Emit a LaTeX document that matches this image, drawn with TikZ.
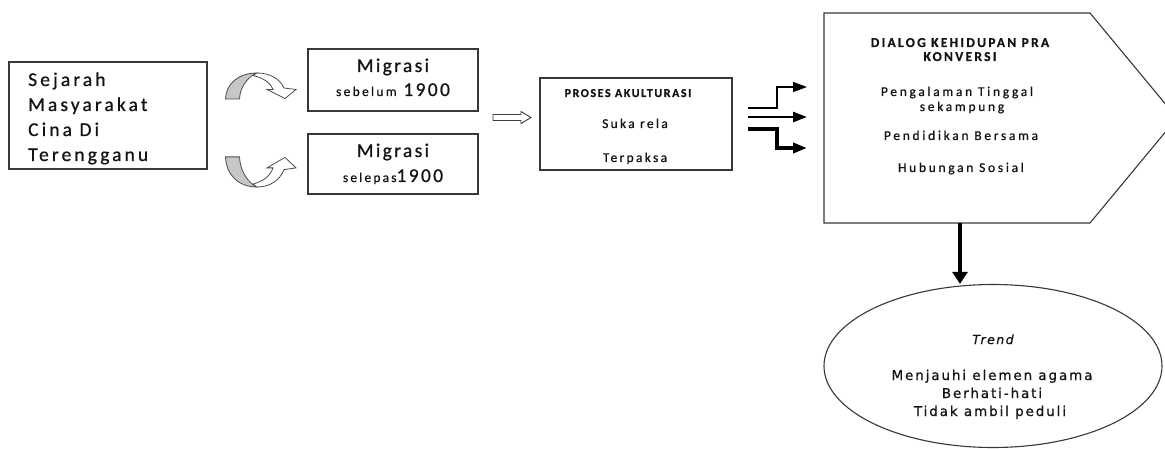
\documentclass[tikz,border=0pt]{standalone}
\usepackage{fontspec}
\setmainfont{Carlito}
\newfontfamily\dvsans{DejaVu Sans}
\usetikzlibrary{arrows.meta,shapes.geometric}
\newcommand{\fsz}[1]{\fontsize{#1}{#1}\selectfont}
\newcommand{\lsp}[1]{\addfontfeatures{LetterSpace=#1,FakeBold=0.7}}
\begin{document}
\begin{tikzpicture}[x=1pt,y=-1pt,
  frame/.style={draw=black!78,line width=1.1pt,inner sep=0pt},
  txt/.style={inner sep=0pt,text=black!92},
  curv/.style={draw=black!70,line width=0.8pt},
  ln/.style={draw=black,line join=miter,-{Triangle[length=14pt,width=10pt]}}]
\fill[white] (0,0) rectangle (1165,449);
\useasboundingbox (0,0) rectangle (1165,449);

% Sejarah box
\node[frame,minimum width=198pt,minimum height=107pt] (sej) at (108,115.5) {};
\node[txt,anchor=base west,font=\fsz{19.5}\lsp{16}] (sej1) at (28,86) {Sejarah};
\node[txt,anchor=base west,font=\fsz{19.5}\lsp{16}] (sej2) at (28,111) {Masyarakat};
\node[txt,anchor=base west,font=\fsz{19.5}\lsp{16}] (sej3) at (28,136) {Cina Di};
\node[txt,anchor=base west,font=\fsz{19.5}\lsp{16}] (sej4) at (28,161) {Terengganu};

% curved arrows
\filldraw[curv,fill=black!22] (225.5,99) .. controls (226,84) and (238,73) .. (257,73) .. controls (249,76) and (240,86) .. (239.5,99) -- cycle;
\filldraw[curv,fill=white] (257,73) .. controls (270,73) and (280,79) .. (284,88) -- (296,89.5) -- (285,98.5) -- (267,89.5) -- (273,89.5) .. controls (270,82) and (263,78) .. (253,75.5) -- cycle;
\begin{scope}[shift={(0,271.7)},yscale=-1.16]
\filldraw[curv,fill=black!22] (225.5,99) .. controls (226,84) and (238,73) .. (257,73) .. controls (249,76) and (240,86) .. (239.5,99) -- cycle;
\filldraw[curv,fill=white] (257,73) .. controls (270,73) and (280,79) .. (284,88) -- (296,89.5) -- (285,98.5) -- (267,89.5) -- (273,89.5) .. controls (270,82) and (263,78) .. (253,75.5) -- cycle;
\end{scope}

% Migrasi boxes
\node[frame,minimum width=170pt,minimum height=62pt] (mig1) at (393,80) {};
\node[txt,anchor=base,font=\fsz{19.5}\lsp{12}] (mig1a) at (393,72) {Migrasi};
\node[txt,anchor=base,font=\fsz{19.5}\lsp{12}] (mig1b) at (393,96) {{\fsz{13.5}\lsp{17}sebelum} 1900};
\node[frame,minimum width=170pt,minimum height=60pt] (mig2) at (393,164) {};
\node[txt,anchor=base,font=\fsz{19.5}\lsp{12}] (mig2a) at (393,157) {Migrasi};
\node[txt,anchor=base,font=\fsz{19.5}\lsp{12}] (mig2b) at (393,182) {{\fsz{13.5}\lsp{16}selepas}1900};

% hollow block arrow
\filldraw[draw=black!75,line width=0.9pt,fill=white] (493,114.5) -- (521,114.5) -- (521,111.5) -- (531,117.5) -- (521,123.5) -- (521,120.5) -- (493,120.5) -- cycle;

% Proses box
\node[frame,minimum width=192pt,minimum height=92pt] (pros) at (636,124) {};
\node[txt,anchor=base,font=\fsz{12}\bfseries\lsp{13}] (pros0) at (628,97) {PROSES AKULTURASI};
\node[txt,anchor=base,font=\fsz{13.5}\lsp{17}] (pros1) at (635,128) {Suka rela};
\node[txt,anchor=base,font=\fsz{13.5}\lsp{17}] (pros2) at (635,162) {Terpaksa};

% elbow arrows
\coordinate (e1s) at (748,108); \coordinate (e1t) at (807,87);
\coordinate (e2s) at (748,117); \coordinate (e2t) at (807,117);
\coordinate (e3s) at (748,129); \coordinate (e3t) at (807,148);
\draw[ln,line width=1.5pt] (e1s) -- ++(29,0) |- (e1t);
\draw[ln,line width=2.5pt] (e2s) -- (e2t);
\draw[ln,line width=3.8pt] (e3s) -- ++(29,0) |- (e3t);

% pentagon
\draw[draw=black!78,line width=1.1pt] (824,13) -- (1090,13) -- (1177,118) -- (1090,223) -- (824,223) -- cycle;
\coordinate (pbot) at (960,223);
\node[txt,anchor=base,font=\fsz{13.5}\bfseries\lsp{17}] (d1) at (960,47) {DIALOG KEHIDUPAN PRA};
\node[txt,anchor=base,font=\fsz{13.5}\bfseries\lsp{17}] (d2) at (960,61) {KONVERSI};
\node[txt,anchor=base,font=\fsz{13.5}\lsp{20}] (d3) at (957,96) {Pengalaman Tinggal};
\node[txt,anchor=base,font=\fsz{13.5}\lsp{20}] (d4) at (962,111) {sekampung};
\node[txt,anchor=base,font=\fsz{13.5}\lsp{20}] (d5) at (961,140) {Pendidikan Bersama};
\node[txt,anchor=base,font=\fsz{13.5}\lsp{20}] (d6) at (961,172) {Hubungan Sosial};

% ellipse
\node[ellipse,draw=black!78,line width=1.1pt,minimum width=338pt,minimum height=163pt,inner sep=0pt] (trend) at (993,366) {};
\node[txt,anchor=base,font=\dvsans\fsz{12.5}\itshape\lsp{12}] (t0) at (993,344) {Trend};
\node[txt,anchor=base,font=\dvsans\fsz{13.5}\lsp{14}] (t1) at (992,380) {Menjauhi elemen agama};
\node[txt,anchor=base,font=\dvsans\fsz{13.5}\lsp{14}] (t2) at (992,398) {Berhati-hati};
\node[txt,anchor=base,font=\dvsans\fsz{13.5}\lsp{14}] (t3) at (990,416) {Tidak ambil peduli};

% down arrow
\draw[line width=3.8pt,-{Triangle[length=12pt,width=15pt]}] (pbot) -- (pbot |- trend.north);
\end{tikzpicture}
\end{document}
